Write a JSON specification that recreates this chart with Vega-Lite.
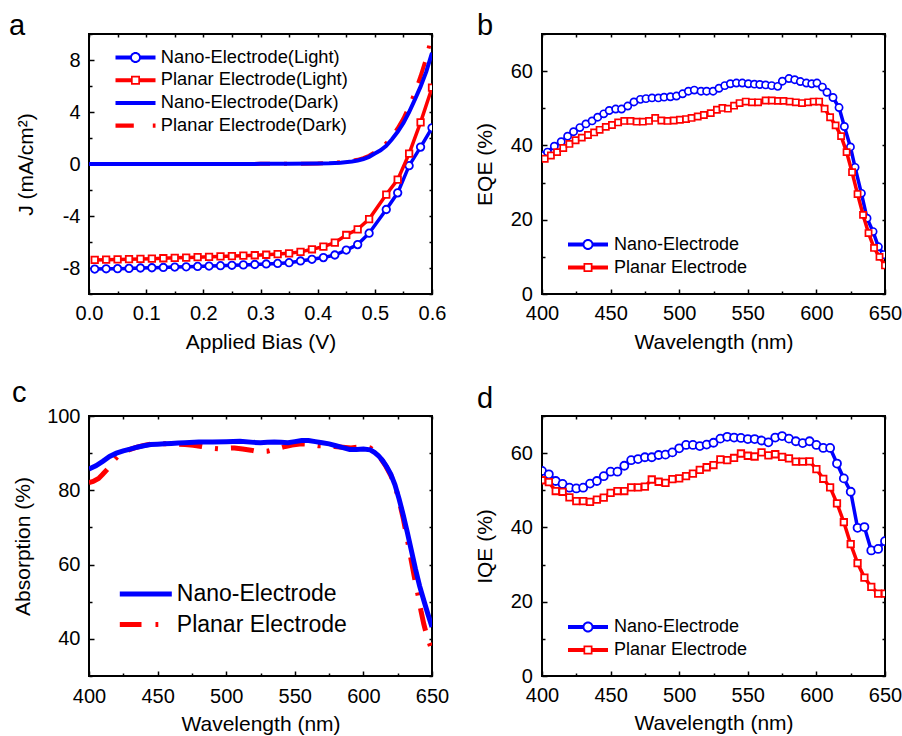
{
  "$schema": "https://vega.github.io/schema/vega-lite/v6.json",
  "background": "white",
  "padding": {"left": 8, "top": 11, "right": 0, "bottom": 0},
  "bounds": "flush",
  "columns": 2,
  "spacing": {"row": 122, "column": 110},
  "resolve": {"scale": {"color": "independent", "shape": "independent"}, "legend": {"color": "independent", "shape": "independent"}},
  "config": {
    "font": "Liberation Sans",
    "view": {"stroke": "black", "strokeWidth": 2},
    "axis": {"domain": false, "grid": false, "labelFont": "Liberation Sans", "labelFontSize": 20, "labelColor": "black", "titleFont": "Liberation Sans", "titleFontSize": 21, "titleFontWeight": "normal", "titleColor": "black", "tickColor": "black", "tickWidth": 1.5, "labelFlush": false, "labelOverlap": false},
    "title": {"font": "Liberation Sans", "fontSize": 29, "fontWeight": "normal", "anchor": "start", "color": "black", "baseline": "alphabetic", "frame": "group"},
    "legend": {"labelFont": "Liberation Sans", "labelColor": "black", "symbolStrokeWidth": 0, "symbolOpacity": 1, "padding": 0, "labelLimit": 0}
  },
  "datasets": {
    "a_nl": [{"x":0.01,"y":-8.08},{"x":0.03,"y":-8.06},{"x":0.05,"y":-8.05},{"x":0.07,"y":-8.03},{"x":0.09,"y":-8.0},{"x":0.11,"y":-7.98},{"x":0.13,"y":-7.96},{"x":0.15,"y":-7.93},{"x":0.17,"y":-7.91},{"x":0.19,"y":-7.88},{"x":0.21,"y":-7.85},{"x":0.23,"y":-7.82},{"x":0.25,"y":-7.79},{"x":0.27,"y":-7.76},{"x":0.29,"y":-7.73},{"x":0.31,"y":-7.69},{"x":0.33,"y":-7.65},{"x":0.35,"y":-7.59},{"x":0.37,"y":-7.46},{"x":0.39,"y":-7.33},{"x":0.41,"y":-7.2},{"x":0.43,"y":-7.0},{"x":0.45,"y":-6.62},{"x":0.47,"y":-6.2},{"x":0.49,"y":-5.32},{"x":0.52,"y":-3.5},{"x":0.54,"y":-2.22},{"x":0.56,"y":-0.13},{"x":0.58,"y":1.3},{"x":0.6,"y":2.78}],
    "a_pl": [{"x":0.01,"y":-7.38},{"x":0.03,"y":-7.36},{"x":0.05,"y":-7.34},{"x":0.07,"y":-7.32},{"x":0.09,"y":-7.3},{"x":0.11,"y":-7.28},{"x":0.13,"y":-7.25},{"x":0.15,"y":-7.22},{"x":0.17,"y":-7.2},{"x":0.19,"y":-7.17},{"x":0.21,"y":-7.14},{"x":0.23,"y":-7.11},{"x":0.25,"y":-7.08},{"x":0.27,"y":-7.05},{"x":0.29,"y":-7.02},{"x":0.31,"y":-6.98},{"x":0.33,"y":-6.93},{"x":0.35,"y":-6.87},{"x":0.37,"y":-6.76},{"x":0.39,"y":-6.56},{"x":0.41,"y":-6.36},{"x":0.43,"y":-6.05},{"x":0.45,"y":-5.46},{"x":0.47,"y":-5.03},{"x":0.49,"y":-4.24},{"x":0.52,"y":-2.35},{"x":0.54,"y":-1.2},{"x":0.56,"y":0.8},{"x":0.58,"y":3.2},{"x":0.6,"y":5.87}],
    "a_nd": [{"x":0,"y":0},{"x":0.1,"y":0},{"x":0.2,"y":0},{"x":0.3,"y":0.01},{"x":0.35,"y":0.02},{"x":0.4,"y":0.03},{"x":0.42,"y":0.05},{"x":0.44,"y":0.1},{"x":0.46,"y":0.2},{"x":0.47,"y":0.27},{"x":0.48,"y":0.38},{"x":0.49,"y":0.55},{"x":0.5,"y":0.8},{"x":0.51,"y":1.05},{"x":0.52,"y":1.4},{"x":0.53,"y":1.9},{"x":0.54,"y":2.48},{"x":0.55,"y":3.15},{"x":0.56,"y":4.0},{"x":0.57,"y":4.95},{"x":0.58,"y":5.95},{"x":0.59,"y":7.1},{"x":0.6,"y":8.55}],
    "a_pd": [{"x":0,"y":0},{"x":0.1,"y":0},{"x":0.2,"y":0},{"x":0.3,"y":0.01},{"x":0.35,"y":0.02},{"x":0.4,"y":0.04},{"x":0.42,"y":0.07},{"x":0.44,"y":0.13},{"x":0.46,"y":0.24},{"x":0.47,"y":0.32},{"x":0.48,"y":0.45},{"x":0.49,"y":0.63},{"x":0.5,"y":0.9},{"x":0.51,"y":1.2},{"x":0.52,"y":1.6},{"x":0.53,"y":2.12},{"x":0.54,"y":2.75},{"x":0.55,"y":3.5},{"x":0.56,"y":4.45},{"x":0.57,"y":5.5},{"x":0.58,"y":6.75},{"x":0.59,"y":8.15},{"x":0.6,"y":10.0}],
    "a_leg": [{"s":"Nano-Electrode(Light)"},{"s":"Planar Electrode(Light)"},{"s":"Nano-Electrode(Dark)"},{"s":"Planar Electrode(Dark)"}],
    "b_n": [{"x":400,"y":37.3},{"x":404,"y":38.2},{"x":409,"y":39.8},{"x":414,"y":41.0},{"x":418.7,"y":42.5},{"x":423,"y":43.7},{"x":427.6,"y":44.8},{"x":432,"y":45.8},{"x":436.5,"y":46.6},{"x":440.6,"y":47.6},{"x":445,"y":48.5},{"x":449,"y":49.4},{"x":453.7,"y":49.8},{"x":458,"y":49.8},{"x":462.5,"y":50.6},{"x":467,"y":51.7},{"x":471.7,"y":52.4},{"x":475.8,"y":52.6},{"x":480.2,"y":52.8},{"x":484.8,"y":52.8},{"x":489,"y":53.0},{"x":493.6,"y":53.1},{"x":498,"y":53.3},{"x":502.5,"y":53.9},{"x":506.7,"y":54.6},{"x":511,"y":54.9},{"x":515.9,"y":54.6},{"x":520,"y":54.6},{"x":524.7,"y":54.6},{"x":529,"y":55.4},{"x":533.2,"y":56.1},{"x":537.3,"y":56.6},{"x":541.7,"y":56.8},{"x":546,"y":56.8},{"x":550.4,"y":56.6},{"x":554.8,"y":56.5},{"x":558.7,"y":56.4},{"x":563,"y":56.3},{"x":567.4,"y":56.1},{"x":571.8,"y":55.9},{"x":575.2,"y":57.3},{"x":580,"y":58.0},{"x":584.2,"y":57.7},{"x":588.3,"y":57.2},{"x":592.7,"y":56.8},{"x":596.6,"y":56.6},{"x":600.4,"y":56.8},{"x":604.4,"y":55.7},{"x":607.7,"y":54.3},{"x":612.1,"y":52.9},{"x":616.5,"y":50.2},{"x":620.4,"y":45.1},{"x":624.8,"y":39.6},{"x":628.2,"y":34.1},{"x":632.8,"y":27.1},{"x":636.9,"y":20.4},{"x":641.3,"y":16.8},{"x":645.2,"y":12.7},{"x":649,"y":10.6}],
    "b_p": [{"x":402,"y":36.4},{"x":406.5,"y":37.3},{"x":411,"y":38.2},{"x":415.5,"y":39.3},{"x":420,"y":40.4},{"x":424.5,"y":41.4},{"x":429,"y":42.1},{"x":433.5,"y":42.8},{"x":438,"y":43.5},{"x":442,"y":44.2},{"x":446.5,"y":45.0},{"x":451,"y":45.5},{"x":455.5,"y":46.2},{"x":460,"y":46.6},{"x":464.5,"y":46.6},{"x":469,"y":46.4},{"x":473.5,"y":46.4},{"x":478,"y":46.6},{"x":482.5,"y":47.4},{"x":487,"y":46.7},{"x":491.5,"y":46.6},{"x":496,"y":46.7},{"x":500.5,"y":46.9},{"x":505,"y":47.1},{"x":509,"y":47.4},{"x":513.5,"y":47.8},{"x":518,"y":48.2},{"x":523,"y":48.7},{"x":527.5,"y":49.6},{"x":531.5,"y":50.1},{"x":535.5,"y":49.9},{"x":540,"y":50.7},{"x":544,"y":51.4},{"x":548.5,"y":51.8},{"x":553,"y":51.6},{"x":557.5,"y":51.6},{"x":563,"y":52.1},{"x":567.5,"y":52.1},{"x":572,"y":52.0},{"x":576,"y":52.0},{"x":580.5,"y":51.8},{"x":585,"y":51.6},{"x":589.5,"y":51.4},{"x":594,"y":51.6},{"x":598,"y":51.8},{"x":602,"y":51.8},{"x":606,"y":49.9},{"x":610,"y":47.6},{"x":614,"y":45.4},{"x":618,"y":42.5},{"x":622,"y":38.2},{"x":626,"y":32.8},{"x":630,"y":26.9},{"x":634,"y":21.3},{"x":638,"y":16.4},{"x":642,"y":12.4},{"x":646,"y":10.0},{"x":650,"y":7.7}],
    "c_n": [{"x":400,"y":85.7},{"x":405,"y":86.6},{"x":410,"y":87.8},{"x":415,"y":89.1},{"x":420,"y":90.0},{"x":425,"y":90.6},{"x":430,"y":91.1},{"x":435,"y":91.6},{"x":440,"y":92.0},{"x":445,"y":92.3},{"x":450,"y":92.4},{"x":455,"y":92.5},{"x":460,"y":92.6},{"x":465,"y":92.7},{"x":470,"y":92.8},{"x":480,"y":93.0},{"x":490,"y":93.0},{"x":500,"y":93.1},{"x":510,"y":93.2},{"x":520,"y":92.9},{"x":525,"y":92.8},{"x":530,"y":92.9},{"x":535,"y":93.0},{"x":540,"y":92.9},{"x":545,"y":92.8},{"x":550,"y":93.1},{"x":555,"y":93.4},{"x":560,"y":93.4},{"x":565,"y":93.1},{"x":570,"y":92.8},{"x":575,"y":92.5},{"x":580,"y":92.0},{"x":585,"y":91.5},{"x":590,"y":91.0},{"x":595,"y":91.0},{"x":600,"y":91.1},{"x":605,"y":90.9},{"x":608,"y":90.2},{"x":611,"y":89.3},{"x":614,"y":88.0},{"x":617,"y":86.3},{"x":620,"y":84.3},{"x":623,"y":81.5},{"x":626,"y":77.7},{"x":629,"y":73.4},{"x":632,"y":68.7},{"x":635,"y":63.7},{"x":638,"y":58.7},{"x":641,"y":54.2},{"x":644,"y":50.4},{"x":647,"y":46.7},{"x":650,"y":43.2}],
    "c_p": [{"x":400,"y":82.1},{"x":403,"y":82.4},{"x":407,"y":83.2},{"x":410,"y":84.3},{"x":414,"y":85.9},{"x":418,"y":88.0},{"x":421.4,"y":89.4},{"x":425,"y":90.3},{"x":430,"y":91.0},{"x":435,"y":91.6},{"x":440,"y":92.1},{"x":445,"y":92.4},{"x":450,"y":92.5},{"x":458,"y":92.5},{"x":465,"y":92.4},{"x":470,"y":92.3},{"x":476,"y":92.1},{"x":482,"y":91.8},{"x":488,"y":91.4},{"x":494,"y":91.2},{"x":500,"y":91.3},{"x":506,"y":91.4},{"x":512,"y":91.1},{"x":518,"y":90.8},{"x":522,"y":90.5},{"x":526,"y":90.4},{"x":530,"y":90.5},{"x":534,"y":90.9},{"x":538,"y":91.3},{"x":543,"y":91.8},{"x":548,"y":92.2},{"x":555,"y":92.5},{"x":560,"y":92.4},{"x":567,"y":92.0},{"x":573,"y":91.9},{"x":579,"y":91.8},{"x":585,"y":91.6},{"x":591,"y":91.4},{"x":596,"y":91.6},{"x":601,"y":91.8},{"x":605,"y":91.4},{"x":608,"y":90.5},{"x":612,"y":88.9},{"x":616,"y":86.7},{"x":620,"y":84.0},{"x":623,"y":81.3},{"x":626,"y":77.3},{"x":629,"y":72.5},{"x":632,"y":66.8},{"x":635,"y":60.9},{"x":638,"y":55.0},{"x":640,"y":51.5},{"x":642,"y":47.5},{"x":644,"y":44.0},{"x":646,"y":41.2},{"x":648,"y":39.0},{"x":650,"y":36.8}],
    "d_n": [{"x":400,"y":55.2},{"x":405,"y":54.3},{"x":410,"y":52.5},{"x":415,"y":51.7},{"x":420,"y":50.7},{"x":425,"y":50.5},{"x":430,"y":50.7},{"x":435,"y":51.8},{"x":440,"y":52.5},{"x":445,"y":53.8},{"x":450,"y":55.0},{"x":455,"y":55.0},{"x":460,"y":56.6},{"x":465,"y":58.1},{"x":470,"y":58.4},{"x":475,"y":58.9},{"x":480,"y":58.9},{"x":485,"y":59.5},{"x":490,"y":59.6},{"x":495,"y":60.2},{"x":500,"y":61.3},{"x":505,"y":62.2},{"x":510,"y":62.2},{"x":515,"y":61.9},{"x":520,"y":62.3},{"x":525,"y":62.8},{"x":530,"y":63.9},{"x":535,"y":64.4},{"x":540,"y":64.2},{"x":545,"y":64.1},{"x":550,"y":63.8},{"x":555,"y":63.8},{"x":560,"y":63.4},{"x":565,"y":62.9},{"x":570,"y":64.2},{"x":575,"y":64.6},{"x":580,"y":63.9},{"x":585,"y":63.2},{"x":590,"y":62.7},{"x":595,"y":63.2},{"x":600,"y":62.2},{"x":605,"y":61.4},{"x":610,"y":61.4},{"x":615,"y":57.2},{"x":620,"y":53.2},{"x":625,"y":49.6},{"x":630,"y":39.9},{"x":635,"y":40.1},{"x":640,"y":33.8},{"x":645,"y":34.2},{"x":650,"y":36.3}],
    "d_p": [{"x":400,"y":52.7},{"x":405,"y":52.2},{"x":410,"y":49.8},{"x":415,"y":49.6},{"x":420,"y":48.1},{"x":425,"y":47.1},{"x":430,"y":47.1},{"x":435,"y":46.9},{"x":440,"y":47.5},{"x":445,"y":48.0},{"x":450,"y":49.3},{"x":455,"y":49.8},{"x":460,"y":49.8},{"x":465,"y":50.8},{"x":470,"y":50.8},{"x":475,"y":51.0},{"x":480,"y":52.9},{"x":485,"y":52.3},{"x":490,"y":52.0},{"x":495,"y":53.0},{"x":500,"y":53.2},{"x":505,"y":53.8},{"x":510,"y":54.5},{"x":515,"y":55.5},{"x":520,"y":56.2},{"x":525,"y":56.8},{"x":530,"y":58.3},{"x":535,"y":58.1},{"x":540,"y":58.7},{"x":545,"y":59.9},{"x":550,"y":59.3},{"x":555,"y":59.1},{"x":560,"y":60.2},{"x":565,"y":59.4},{"x":570,"y":59.7},{"x":575,"y":59.0},{"x":580,"y":58.6},{"x":585,"y":57.7},{"x":590,"y":57.7},{"x":595,"y":57.8},{"x":600,"y":55.7},{"x":605,"y":53.1},{"x":610,"y":50.8},{"x":615,"y":46.5},{"x":620,"y":41.4},{"x":625,"y":35.5},{"x":630,"y":30.4},{"x":635,"y":26.5},{"x":640,"y":24.0},{"x":645,"y":22.2},{"x":650,"y":22.2}],
    "e_leg": [{"s":"Nano-Electrode"},{"s":"Planar Electrode"}]
  },
  "concat": [
    {
      "width": 343, "height": 260,
      "title": {"text": "a", "dx": -80, "offset": -17},
      "layer": [
        {"data": {"name": "a_pd"}, "mark": {"type": "line", "color": "#ff0000", "strokeWidth": 4, "strokeDash": [22, 14, 3, 14], "clip": true},
         "encoding": {
           "x": {"field": "x", "type": "quantitative", "scale": {"domain": [0, 0.6], "nice": false, "zero": false},
                 "axis": {"orient": "bottom", "values": [0,0.05,0.1,0.15,0.2,0.25,0.3,0.35,0.4,0.45,0.5,0.55,0.6], "labelExpr": "abs(datum.value*10-round(datum.value*10))<0.001 ? format(datum.value,'.1f') : ''", "tickSize": {"condition": {"test": "abs(datum.value*10-round(datum.value*10))<0.001", "value": -5}, "value": -3}, "labelPadding": 14.5, "title": "Applied Bias (V)", "titlePadding": 7.4, "minExtent": 30, "maxExtent": 30}},
           "y": {"field": "y", "type": "quantitative", "scale": {"domain": [-10, 10], "nice": false, "zero": false},
                 "axis": {"orient": "left", "values": [-10,-8,-6,-4,-2,0,2,4,6,8,10], "labelExpr": "datum.value % 4 == 0 ? '' + datum.value : ''", "tickSize": {"condition": {"test": "datum.value % 4 == 0", "value": -5}, "value": -3}, "labelPadding": 14, "title": "J (mA/cm²)", "titlePadding": 22.3, "minExtent": 30, "maxExtent": 30}}
         }},
        {"data": {"name": "a_nd"}, "mark": {"type": "line", "color": "#0000ff", "strokeWidth": 4, "clip": true},
         "encoding": {
           "x": {"field": "x", "type": "quantitative", "scale": {"domain": [0, 0.6], "nice": false, "zero": false},
                 "axis": {"orient": "top", "values": [0,0.05,0.1,0.15,0.2,0.25,0.3,0.35,0.4,0.45,0.5,0.55,0.6], "labels": false, "title": null, "tickSize": -3, "minExtent": 0, "maxExtent": 0}},
           "y": {"field": "y", "type": "quantitative", "scale": {"domain": [-10, 10], "nice": false, "zero": false},
                 "axis": {"orient": "right", "values": [-10,-8,-6,-4,-2,0,2,4,6,8,10], "labels": false, "title": null, "tickSize": -3, "minExtent": 0, "maxExtent": 0}}
         }},
        {"data": {"name": "a_nl"}, "mark": {"type": "line", "color": "#0000ff", "strokeWidth": 3.5, "clip": true},
         "encoding": {"x": {"field": "x", "type": "quantitative", "scale": {"domain": [0, 0.6], "nice": false, "zero": false}, "axis": null},
                      "y": {"field": "y", "type": "quantitative", "scale": {"domain": [-10, 10], "nice": false, "zero": false}, "axis": null}}},
        {"data": {"name": "a_nl"}, "mark": {"type": "point", "shape": "circle", "size": 56, "filled": true, "fill": "white", "stroke": "#0000ff", "strokeWidth": 1.8, "opacity": 1, "clip": true},
         "encoding": {"x": {"field": "x", "type": "quantitative", "scale": {"domain": [0, 0.6], "nice": false, "zero": false}, "axis": null},
                      "y": {"field": "y", "type": "quantitative", "scale": {"domain": [-10, 10], "nice": false, "zero": false}, "axis": null}}},
        {"data": {"name": "a_pl"}, "mark": {"type": "line", "color": "#ff0000", "strokeWidth": 3.5, "clip": true},
         "encoding": {"x": {"field": "x", "type": "quantitative", "scale": {"domain": [0, 0.6], "nice": false, "zero": false}, "axis": null},
                      "y": {"field": "y", "type": "quantitative", "scale": {"domain": [-10, 10], "nice": false, "zero": false}, "axis": null}}},
        {"data": {"name": "a_pl"}, "mark": {"type": "point", "shape": "square", "size": 42, "filled": true, "fill": "white", "stroke": "#ff0000", "strokeWidth": 1.8, "opacity": 1, "clip": true},
         "encoding": {"x": {"field": "x", "type": "quantitative", "scale": {"domain": [0, 0.6], "nice": false, "zero": false}, "axis": null},
                      "y": {"field": "y", "type": "quantitative", "scale": {"domain": [-10, 10], "nice": false, "zero": false}, "axis": null}}},
        {"data": {"name": "a_leg"}, "mark": {"type": "point", "filled": true, "opacity": 0},
         "encoding": {
           "color": {"field": "s", "type": "nominal", "scale": {"domain": ["Nano-Electrode(Light)","Planar Electrode(Light)","Nano-Electrode(Dark)","Planar Electrode(Dark)"], "range": ["#0000ff","#ff0000","#0000ff","#ff0000"]},
                     "legend": {"title": null, "orient": "none", "legendX": 36.5, "legendY": 13.5, "symbolSize": 400, "labelFontSize": 18.3, "labelOffset": 15.3, "rowPadding": 3.7}},
           "shape": {"field": "s", "type": "nominal", "scale": {"domain": ["Nano-Electrode(Light)","Planar Electrode(Light)","Nano-Electrode(Dark)","Planar Electrode(Dark)"], "range": [
             "M-2,-0.2L-0.5,-0.2L-0.5,0.2L-2,0.2Z M0.5,-0.2L2,-0.2L2,0.2L0.5,0.2Z M0.55,0A0.55,0.55,0,1,1,-0.55,0A0.55,0.55,0,1,1,0.55,0Z M0.36,0A0.36,0.36,0,1,0,-0.36,0A0.36,0.36,0,1,0,0.36,0Z",
             "M-2,-0.2L-0.4,-0.2L-0.4,0.2L-2,0.2Z M0.4,-0.2L2,-0.2L2,0.2L0.4,0.2Z M-0.45,-0.45L0.45,-0.45L0.45,0.45L-0.45,0.45Z M-0.28,-0.28L-0.28,0.28L0.28,0.28L0.28,-0.28Z",
             "M-2,-0.2L2,-0.2L2,0.2L-2,0.2Z",
             "M-2,-0.22L-0.17,-0.22L-0.17,0.22L-2,0.22Z M1.73,-0.22L2,-0.22L2,0.22L1.73,0.22Z"]},
                     "legend": {"title": null, "orient": "none", "legendX": 36.5, "legendY": 13.5, "symbolSize": 400, "labelFontSize": 18.3, "labelOffset": 15.3, "rowPadding": 3.7}}
         }}
      ],
      "resolve": {"axis": {"x": "independent", "y": "independent"}}
    },
    {
      "width": 343, "height": 260,
      "title": {"text": "b", "dx": -65, "offset": -17},
      "layer": [
        {"data": {"name": "b_n"}, "mark": {"type": "line", "color": "#0000ff", "strokeWidth": 3.5, "clip": true},
         "encoding": {
           "x": {"field": "x", "type": "quantitative", "scale": {"domain": [400, 650], "nice": false, "zero": false},
                 "axis": {"orient": "bottom", "values": [400,425,450,475,500,525,550,575,600,625,650], "labelExpr": "datum.value % 50 == 0 ? '' + datum.value : ''", "tickSize": {"condition": {"test": "datum.value % 50 == 0", "value": -5}, "value": -3}, "labelPadding": 14, "title": "Wavelength (nm)", "titlePadding": 7.4, "minExtent": 30, "maxExtent": 30}},
           "y": {"field": "y", "type": "quantitative", "scale": {"domain": [0, 70], "nice": false, "zero": false},
                 "axis": {"orient": "left", "values": [0,10,20,30,40,50,60,70], "labelExpr": "datum.value % 20 == 0 ? '' + datum.value : ''", "tickSize": {"condition": {"test": "datum.value % 20 == 0", "value": -5}, "value": -3}, "labelPadding": 14.6, "title": "EQE (%)", "titlePadding": 16.3, "minExtent": 30, "maxExtent": 30}}
         }},
        {"data": {"name": "b_n"}, "mark": {"type": "point", "shape": "circle", "size": 52, "filled": true, "fill": "white", "stroke": "#0000ff", "strokeWidth": 1.7, "opacity": 1, "clip": true},
         "encoding": {
           "x": {"field": "x", "type": "quantitative", "scale": {"domain": [400, 650], "nice": false, "zero": false},
                 "axis": {"orient": "top", "values": [400,425,450,475,500,525,550,575,600,625,650], "labels": false, "title": null, "tickSize": -3, "minExtent": 0, "maxExtent": 0}},
           "y": {"field": "y", "type": "quantitative", "scale": {"domain": [0, 70], "nice": false, "zero": false},
                 "axis": {"orient": "right", "values": [0,10,20,30,40,50,60,70], "labels": false, "title": null, "tickSize": -3, "minExtent": 0, "maxExtent": 0}}
         }},
        {"data": {"name": "b_p"}, "mark": {"type": "line", "color": "#ff0000", "strokeWidth": 3.5, "clip": true},
         "encoding": {"x": {"field": "x", "type": "quantitative", "scale": {"domain": [400, 650], "nice": false, "zero": false}, "axis": null},
                      "y": {"field": "y", "type": "quantitative", "scale": {"domain": [0, 70], "nice": false, "zero": false}, "axis": null}}},
        {"data": {"name": "b_p"}, "mark": {"type": "point", "shape": "square", "size": 38, "filled": true, "fill": "white", "stroke": "#ff0000", "strokeWidth": 1.7, "opacity": 1, "clip": true},
         "encoding": {"x": {"field": "x", "type": "quantitative", "scale": {"domain": [400, 650], "nice": false, "zero": false}, "axis": null},
                      "y": {"field": "y", "type": "quantitative", "scale": {"domain": [0, 70], "nice": false, "zero": false}, "axis": null}}},
        {"data": {"name": "e_leg"}, "mark": {"type": "point", "filled": true, "opacity": 0},
         "encoding": {
           "color": {"field": "s", "type": "nominal", "scale": {"domain": ["Nano-Electrode","Planar Electrode"], "range": ["#0000ff","#ff0000"]},
                     "legend": {"title": null, "orient": "none", "legendX": 36, "legendY": 200.5, "symbolSize": 400, "labelFontSize": 18, "labelOffset": 16, "rowPadding": 4}},
           "shape": {"field": "s", "type": "nominal", "scale": {"domain": ["Nano-Electrode","Planar Electrode"], "range": [
             "M-2,-0.2L-0.5,-0.2L-0.5,0.2L-2,0.2Z M0.5,-0.2L2,-0.2L2,0.2L0.5,0.2Z M0.55,0A0.55,0.55,0,1,1,-0.55,0A0.55,0.55,0,1,1,0.55,0Z M0.36,0A0.36,0.36,0,1,0,-0.36,0A0.36,0.36,0,1,0,0.36,0Z",
             "M-2,-0.2L-0.4,-0.2L-0.4,0.2L-2,0.2Z M0.4,-0.2L2,-0.2L2,0.2L0.4,0.2Z M-0.45,-0.45L0.45,-0.45L0.45,0.45L-0.45,0.45Z M-0.28,-0.28L-0.28,0.28L0.28,0.28L0.28,-0.28Z"]},
                     "legend": {"title": null, "orient": "none", "legendX": 36, "legendY": 200.5, "symbolSize": 400, "labelFontSize": 18, "labelOffset": 16, "rowPadding": 4}}
         }}
      ],
      "resolve": {"axis": {"x": "independent", "y": "independent"}}
    },
    {
      "width": 343, "height": 260,
      "title": {"text": "c", "dx": -77, "offset": -2},
      "layer": [
        {"data": {"name": "c_p"}, "mark": {"type": "line", "color": "#ff0000", "strokeWidth": 5, "strokeDash": [23, 13, 3, 13], "clip": true},
         "encoding": {
           "x": {"field": "x", "type": "quantitative", "scale": {"domain": [400, 650], "nice": false, "zero": false},
                 "axis": {"orient": "bottom", "values": [400,425,450,475,500,525,550,575,600,625,650], "labelExpr": "datum.value % 50 == 0 ? '' + datum.value : ''", "tickSize": {"condition": {"test": "datum.value % 50 == 0", "value": -5}, "value": -3}, "labelPadding": 15, "title": "Wavelength (nm)", "titlePadding": 7.5, "minExtent": 30, "maxExtent": 30}},
           "y": {"field": "y", "type": "quantitative", "scale": {"domain": [30, 100], "nice": false, "zero": false},
                 "axis": {"orient": "left", "values": [30,40,50,60,70,80,90,100], "labelExpr": "datum.value % 20 == 0 ? '' + datum.value : ''", "tickSize": {"condition": {"test": "datum.value % 20 == 0", "value": -5}, "value": -3}, "labelPadding": 14, "title": "Absorption (%)", "titlePadding": 25.7, "minExtent": 30, "maxExtent": 30}}
         }},
        {"data": {"name": "c_n"}, "mark": {"type": "line", "color": "#0000ff", "strokeWidth": 5, "clip": true},
         "encoding": {
           "x": {"field": "x", "type": "quantitative", "scale": {"domain": [400, 650], "nice": false, "zero": false},
                 "axis": {"orient": "top", "values": [400,425,450,475,500,525,550,575,600,625,650], "labels": false, "title": null, "tickSize": -3, "minExtent": 0, "maxExtent": 0}},
           "y": {"field": "y", "type": "quantitative", "scale": {"domain": [30, 100], "nice": false, "zero": false},
                 "axis": {"orient": "right", "values": [30,40,50,60,70,80,90,100], "labels": false, "title": null, "tickSize": -3, "minExtent": 0, "maxExtent": 0}}
         }},
        {"data": {"name": "e_leg"}, "mark": {"type": "point", "filled": true, "opacity": 0},
         "encoding": {
           "color": {"field": "s", "type": "nominal", "scale": {"domain": ["Nano-Electrode","Planar Electrode"], "range": ["#0000ff","#ff0000"]},
                     "legend": {"title": null, "orient": "none", "legendX": 45.3, "legendY": 166.5, "symbolSize": 400, "labelFontSize": 23, "labelOffset": 19.5, "rowPadding": 6.5}},
           "shape": {"field": "s", "type": "nominal", "scale": {"domain": ["Nano-Electrode","Planar Electrode"], "range": [
             "M-2.6,-0.26L2.6,-0.26L2.6,0.26L-2.6,0.26Z",
             "M-2.6,-0.26L-0.43,-0.26L-0.43,0.26L-2.6,0.26Z M0.97,-0.26L1.25,-0.26L1.25,0.26L0.97,0.26Z"]},
                     "legend": {"title": null, "orient": "none", "legendX": 45.3, "legendY": 166.5, "symbolSize": 400, "labelFontSize": 23, "labelOffset": 19.5, "rowPadding": 6.5}}
         }}
      ],
      "resolve": {"axis": {"x": "independent", "y": "independent"}}
    },
    {
      "width": 343, "height": 260,
      "title": {"text": "d", "dx": -65, "offset": -8},
      "layer": [
        {"data": {"name": "d_n"}, "mark": {"type": "line", "color": "#0000ff", "strokeWidth": 3.5, "clip": true},
         "encoding": {
           "x": {"field": "x", "type": "quantitative", "scale": {"domain": [400, 650], "nice": false, "zero": false},
                 "axis": {"orient": "bottom", "values": [400,425,450,475,500,525,550,575,600,625,650], "labelExpr": "datum.value % 50 == 0 ? '' + datum.value : ''", "tickSize": {"condition": {"test": "datum.value % 50 == 0", "value": -5}, "value": -3}, "labelPadding": 14.5, "title": "Wavelength (nm)", "titlePadding": 6.5, "minExtent": 30, "maxExtent": 30}},
           "y": {"field": "y", "type": "quantitative", "scale": {"domain": [0, 70], "nice": false, "zero": false},
                 "axis": {"orient": "left", "values": [0,10,20,30,40,50,60,70], "labelExpr": "datum.value % 20 == 0 ? '' + datum.value : ''", "tickSize": {"condition": {"test": "datum.value % 20 == 0", "value": -5}, "value": -3}, "labelPadding": 14.6, "title": "IQE (%)", "titlePadding": 16.3, "minExtent": 30, "maxExtent": 30}}
         }},
        {"data": {"name": "d_n"}, "mark": {"type": "point", "shape": "circle", "size": 64, "filled": true, "fill": "white", "stroke": "#0000ff", "strokeWidth": 1.8, "opacity": 1, "clip": true},
         "encoding": {
           "x": {"field": "x", "type": "quantitative", "scale": {"domain": [400, 650], "nice": false, "zero": false},
                 "axis": {"orient": "top", "values": [400,425,450,475,500,525,550,575,600,625,650], "labels": false, "title": null, "tickSize": -3, "minExtent": 0, "maxExtent": 0}},
           "y": {"field": "y", "type": "quantitative", "scale": {"domain": [0, 70], "nice": false, "zero": false},
                 "axis": {"orient": "right", "values": [0,10,20,30,40,50,60,70], "labels": false, "title": null, "tickSize": -3, "minExtent": 0, "maxExtent": 0}}
         }},
        {"data": {"name": "d_p"}, "mark": {"type": "line", "color": "#ff0000", "strokeWidth": 3.5, "clip": true},
         "encoding": {"x": {"field": "x", "type": "quantitative", "scale": {"domain": [400, 650], "nice": false, "zero": false}, "axis": null},
                      "y": {"field": "y", "type": "quantitative", "scale": {"domain": [0, 70], "nice": false, "zero": false}, "axis": null}}},
        {"data": {"name": "d_p"}, "mark": {"type": "point", "shape": "square", "size": 42, "filled": true, "fill": "white", "stroke": "#ff0000", "strokeWidth": 1.8, "opacity": 1, "clip": true},
         "encoding": {"x": {"field": "x", "type": "quantitative", "scale": {"domain": [400, 650], "nice": false, "zero": false}, "axis": null},
                      "y": {"field": "y", "type": "quantitative", "scale": {"domain": [0, 70], "nice": false, "zero": false}, "axis": null}}},
        {"data": {"name": "e_leg"}, "mark": {"type": "point", "filled": true, "opacity": 0},
         "encoding": {
           "color": {"field": "s", "type": "nominal", "scale": {"domain": ["Nano-Electrode","Planar Electrode"], "range": ["#0000ff","#ff0000"]},
                     "legend": {"title": null, "orient": "none", "legendX": 36, "legendY": 201, "symbolSize": 400, "labelFontSize": 18, "labelOffset": 16, "rowPadding": 4}},
           "shape": {"field": "s", "type": "nominal", "scale": {"domain": ["Nano-Electrode","Planar Electrode"], "range": [
             "M-2,-0.2L-0.5,-0.2L-0.5,0.2L-2,0.2Z M0.5,-0.2L2,-0.2L2,0.2L0.5,0.2Z M0.55,0A0.55,0.55,0,1,1,-0.55,0A0.55,0.55,0,1,1,0.55,0Z M0.36,0A0.36,0.36,0,1,0,-0.36,0A0.36,0.36,0,1,0,0.36,0Z",
             "M-2,-0.2L-0.4,-0.2L-0.4,0.2L-2,0.2Z M0.4,-0.2L2,-0.2L2,0.2L0.4,0.2Z M-0.45,-0.45L0.45,-0.45L0.45,0.45L-0.45,0.45Z M-0.28,-0.28L-0.28,0.28L0.28,0.28L0.28,-0.28Z"]},
                     "legend": {"title": null, "orient": "none", "legendX": 36, "legendY": 201, "symbolSize": 400, "labelFontSize": 18, "labelOffset": 16, "rowPadding": 4}}
         }}
      ],
      "resolve": {"axis": {"x": "independent", "y": "independent"}}
    }
  ]
}
